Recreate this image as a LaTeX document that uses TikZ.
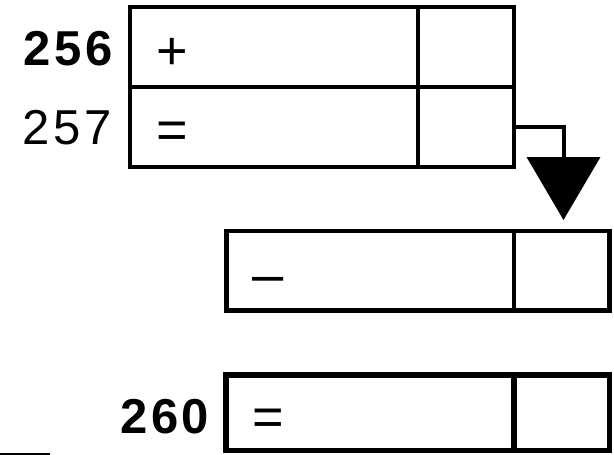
\documentclass[tikz,border=0pt]{standalone}
\usepackage{fontspec}
\setmainfont{Liberation Sans}
\usetikzlibrary{arrows.meta}
\begin{document}
\begin{tikzpicture}[x=1pt,y=-1pt,
  cell/.style={draw, line width=4pt, inner sep=0pt, outer sep=0pt, anchor=north west},
  thickcell/.style={cell, line width=5.3pt},
  numlbl/.style={inner sep=0pt, anchor=base west, font=\fontsize{49}{49}\selectfont},
  boldnum/.style={inner sep=0pt, anchor=base west, font=\fontsize{49}{49}\selectfont\bfseries},
  oplbl/.style={inner sep=0pt, anchor=base, font=\fontsize{54}{54}\selectfont},
  dashlbl/.style={inner sep=0pt, anchor=base, font=\fontsize{56}{56}\selectfont},
  link/.style={line width=4pt, -{Triangle[width=73pt,length=63pt]}}]
\useasboundingbox (0,0) rectangle (614,455);
% top box
\node[cell, minimum width=288.5pt, minimum height=79.4pt] (a1) at (129.5,7.3) {};
\node[cell, minimum width=95.7pt, minimum height=79.4pt] (a2) at (418,7.3) {};
\node[cell, minimum width=288.5pt, minimum height=79.8pt] (b1) at (129.5,86.7) {};
\node[cell, minimum width=95.7pt, minimum height=79.8pt] (b2) at (418,86.7) {};
% minus box
\node[cell, line width=4.4pt, minimum width=287.7pt, minimum height=79.5pt] (c1) at (226.3,231) {};
\node[cell, line width=4.4pt, minimum width=95.5pt, minimum height=79.5pt] (c2) at (514,231) {};
% result box
\node[thickcell, minimum width=288pt, minimum height=75.5pt] (d1) at (226,375) {};
\node[thickcell, minimum width=95.5pt, minimum height=75.5pt] (d2) at (514,375) {};
% labels
\node[boldnum] (n256) at (23.5,65) {2\kern3.5pt5\kern3.5pt6};
\node[numlbl] (n257) at (22.5,144) {2\kern3.5pt5\kern3.5pt7};
\node[boldnum] (n260) at (120.3,433) {2\kern3.5pt6\kern3.5pt0};
\node[oplbl] (plus) at (172,69.3) {+};
\node[oplbl] (eq1) at (172,148) {=};
\node[dashlbl] (minus) at (268.3,293.4) {–};
\node[oplbl] (eq2) at (268.5,435) {=};
% connector
\coordinate (tip) at (563.5,220);
\draw[link] (b2.east) -| (tip);
% stray rule at lower left
\coordinate (r0) at (0,454);
\coordinate (r1) at (50,454);
\draw[line width=3pt] (r0) -- (r1);
\end{tikzpicture}
\end{document}
